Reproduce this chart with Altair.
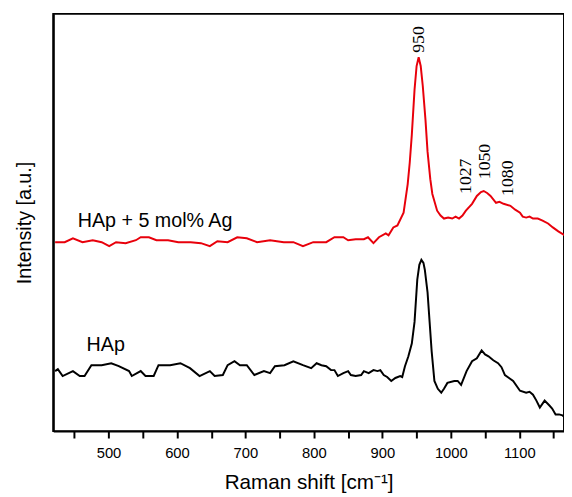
import altair as alt
import pandas as pd

# ---- data ----
hap_shift = [422, 426, 433, 448, 458, 465, 475, 490, 504, 515, 530, 534, 547, 554, 566, 573, 590, 605,
             619, 633, 648, 655, 667, 674, 684, 692, 702, 713, 727, 736, 743, 757, 770, 784, 796, 804,
             811, 818, 825, 830, 835, 843, 850, 854, 861, 869, 873, 880, 887, 893, 897, 902, 907, 913,
             919, 926, 929, 933, 938, 943, 947, 951, 954, 957, 960, 962, 966, 969, 972, 976, 981, 986,
             990, 995, 1005, 1010, 1015, 1023, 1031, 1038, 1045, 1050, 1055, 1062, 1069, 1074, 1079,
             1085, 1091, 1101, 1110, 1115, 1120, 1125, 1130, 1137, 1144, 1148, 1153, 1158, 1163, 1166]
hap_int = [60, 62, 55, 60, 55, 55, 66, 66, 68, 65, 60, 55, 60, 55, 55, 66, 66, 68,
           63, 55, 60, 55, 56, 66, 70, 66, 66, 56, 60, 58, 65, 66, 70, 66, 63, 68,
           66, 65, 61, 61, 55, 58, 60, 56, 55, 56, 60, 58, 61, 60, 61, 56, 54, 50,
           53, 55, 54, 65, 75, 88, 110, 153, 168, 173, 170, 163, 140, 110, 80, 50, 42, 38,
           42, 48, 50, 50, 46, 60, 70, 73, 81, 77, 75, 71, 68, 64, 56,
           53, 50, 40, 38, 39, 36, 30, 23, 30, 25, 22, 16, 16, 15, 13]

ag_shift = [422, 436, 448, 462, 477, 490, 501, 511, 525, 540, 547, 559, 570, 587, 602, 620, 635, 648,
            659, 674, 688, 702, 717, 736, 756, 770, 784, 799, 813, 818, 830, 843, 850, 861, 873, 879,
            887, 895, 905, 909, 916, 922, 931, 937, 940, 943, 947, 950, 953, 956, 959, 963, 966, 970,
            973, 980, 985, 990, 996, 1002, 1007, 1012, 1017, 1022, 1031, 1038, 1044, 1048, 1053, 1058,
            1066, 1071, 1077, 1087, 1094, 1101, 1105, 1110, 1115, 1120, 1127, 1134, 1142, 1149, 1157, 1166]
ag_int = [191, 191, 195, 191, 193, 191, 187, 191, 190, 193, 196, 196, 193, 193, 191, 191, 190, 187,
          192, 191, 196, 195, 191, 193, 191, 191, 187, 191, 191, 191, 196, 196, 193, 194, 194, 196,
          190, 196, 200, 198, 206, 208, 221, 250, 272, 300, 346, 370, 379, 370, 350, 315, 283, 255,
          240, 223, 218, 215, 216, 215, 217, 215, 218, 223, 230, 238, 242, 243, 241, 238,
          231, 232, 230, 228, 224, 221, 217, 216, 217, 215, 215, 213, 210, 206, 202, 198]

peak_labels = ["950", "1027", "1050", "1080"]
peak_x = [954, 1023, 1050, 1084]
peak_y = [397, 258, 273, 256]

sample_names = ["HAp + 5 mol% Ag", "HAp"]
sample_x = [455, 468]
sample_y = [206, 80]

axis_ticks = [450, 500, 550, 600, 650, 700, 750, 800, 850, 900, 950, 1000, 1050, 1100, 1150]

# ---- tables ----
spectra = pd.concat([
    pd.DataFrame({"shift": ag_shift, "intensity": ag_int, "sample": "HAp + 5 mol% Ag"}),
    pd.DataFrame({"shift": hap_shift, "intensity": hap_int, "sample": "HAp"}),
])
peaks = pd.DataFrame({"label": peak_labels, "shift": peak_x, "intensity": peak_y})
names = pd.DataFrame({"label": sample_names, "shift": sample_x, "intensity": sample_y})

x_enc = alt.X("shift:Q",
              scale=alt.Scale(domain=[419.3, 1165.3], nice=False, zero=False),
              axis=alt.Axis(values=axis_ticks, orient="bottom", format="d",
                            labelExpr="datum.value % 100 === 0 ? datum.label : ''",
                            ticks=True, tickSize=7, tickWidth=2, tickColor="black", tickOpacity=1,
                            domain=True, domainWidth=2, domainColor="black",
                            labelPadding=8, labelFontSize=15,
                            title="Raman shift [cm\u207b\u00b9]", titlePadding=11, titleFontSize=21))
y_enc = alt.Y("intensity:Q",
              scale=alt.Scale(domain=[-1, 423], nice=False, zero=False),
              axis=alt.Axis(tickSize=0, labels=False, domain=True, domainWidth=2, domainColor="black",
                            title="Intensity [a.u.]", titlePadding=19, titleFontSize=20))

lines = alt.Chart(spectra).mark_line(strokeWidth=2).encode(
    color=alt.Color("sample:N", legend=None,
                    scale=alt.Scale(domain=["HAp + 5 mol% Ag", "HAp"], range=["#e8000b", "#000000"])),
    detail="sample:N",
)

peak_text = alt.Chart(peaks).mark_text(
    angle=270, align="center", baseline="middle", font="Liberation Serif", fontSize=18, color="black"
).encode(text="label:N")

name_text = alt.Chart(names).mark_text(
    align="left", baseline="alphabetic", font="Liberation Sans", fontSize=20, color="black"
).encode(text="label:N")

chart = alt.layer(lines, peak_text, name_text).encode(x=x_enc, y=y_enc).properties(
    width=519, height=424,
    autosize=alt.AutoSizeParams(type="none"),
    padding={"left": 46, "top": 2, "right": 0, "bottom": 65},
).configure_view(stroke="black", strokeWidth=2).configure_axis(
    grid=False, labelColor="black", titleColor="black",
    labelFont="Liberation Sans", titleFont="Liberation Sans", titleFontWeight="normal",
)

chart.save("out.html", embed_options={"renderer": "svg", "actions": False})
